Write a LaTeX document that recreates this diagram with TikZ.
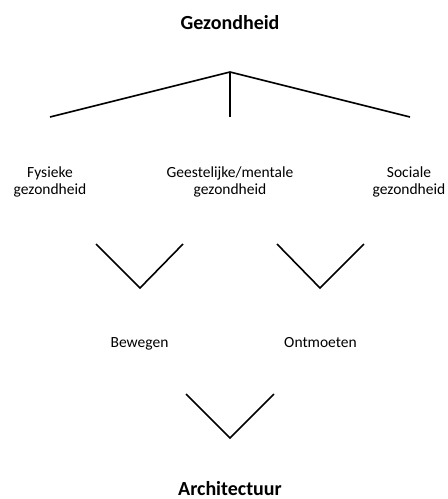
\documentclass[tikz,border=0pt]{standalone}
\usepackage{fontspec}
\setmainfont{Carlito}
\begin{document}
\begin{tikzpicture}[x=1pt,y=-1pt,
  lbl/.style={font=\fontsize{15.5}{17}\selectfont, align=center, inner sep=0pt},
  ttl/.style={font=\bfseries\fontsize{20}{24}\selectfont, inner sep=0pt},
  link/.style={line width=1.6pt, line join=miter, draw=black}]
\useasboundingbox (0,0) rectangle (448,499);
% titles and labels
\node[ttl, anchor=base] (gez) at (230,29) {Gezondheid};
\node[lbl] (fys) at (50,182) {Fysieke\\gezondheid};
\node[lbl] (gee) at (230,182) {Geestelijke/mentale\\gezondheid};
\node[lbl] (soc) at (409,182) {Sociale\\gezondheid};
\node[lbl, anchor=base] (bew) at (139.5,347) {Bewegen};
\node[lbl, anchor=base] (ont) at (320.5,347) {Ontmoeten};
\node[ttl, anchor=base] (arc) at (230,495) {Architectuur};
% connector points
\coordinate (apex) at (230,72);
\coordinate (tl) at (50,117);
\coordinate (tm) at (230,117);
\coordinate (tr) at (410,117);
\coordinate (v1l) at (96,244);
\coordinate (v1b) at (140,288);
\coordinate (v1r) at (183,244);
\coordinate (v2l) at (277,244);
\coordinate (v2b) at (320,288);
\coordinate (v2r) at (364,244);
\coordinate (v3l) at (186,394);
\coordinate (v3b) at (230,438);
\coordinate (v3r) at (274,394);
% connectors
\draw[link] (tl) -- (apex) -- (tr);
\draw[link] (apex) -- (tm);
\draw[link] (v1l) -- (v1b) -- (v1r);
\draw[link] (v2l) -- (v2b) -- (v2r);
\draw[link] (v3l) -- (v3b) -- (v3r);
\end{tikzpicture}
\end{document}
